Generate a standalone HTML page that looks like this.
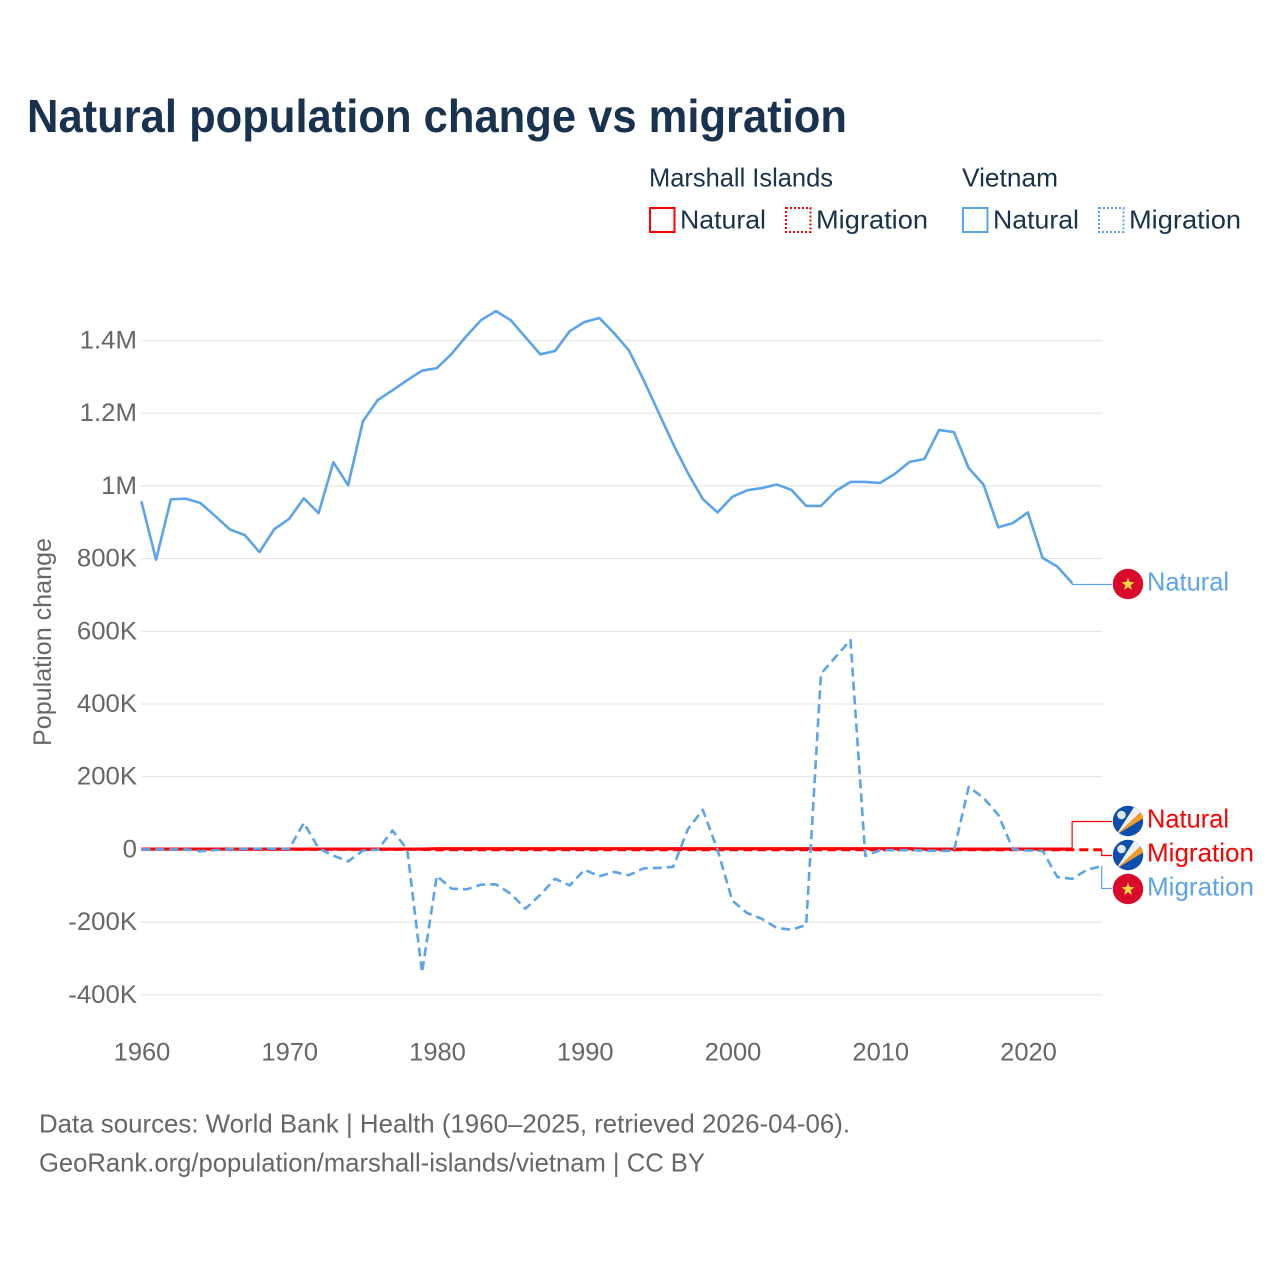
<!DOCTYPE html>
<html lang="en">
<head>
<meta charset="utf-8">
<title>Natural population change vs migration</title>
<style>
html,body{margin:0;padding:0;background:#fff;}
svg{display:block;font-family:"Liberation Sans",sans-serif;}
</style>
</head>
<body>
<svg id="chart" width="1280" height="1280" viewBox="0 0 1280 1280" xmlns="http://www.w3.org/2000/svg">
<defs>
<clipPath id="flag-clip-circle"><circle cx="15" cy="15" r="15.2"/></clipPath>
<g id="flag-vn"><circle cx="15" cy="15" r="15.2" fill="#da0a2c"/><polygon points="15,8.5 16.7,13 21.5,13.2 17.7,16.2 19,20.9 15,18.2 11,20.9 12.3,16.2 8.5,13.2 13.3,13" fill="#ffd83d"/></g>
<g id="flag-mh"><g clip-path="url(#flag-clip-circle)"><rect x="-1" y="-1" width="32" height="32" fill="#0b4fae"/><polygon points="3,29 31,3 31,12" fill="#f59a23"/><polygon points="3,29 31,3 23,-2" fill="#f0f0f0"/><circle cx="8.500" cy="9" r="4.300" fill="#dfe6f2"/></g></g>
</defs>
<rect width="1280" height="1280" fill="#fff"/>
<text x="27" y="132" font-size="46" font-weight="700" fill="#18324f" textLength="820" lengthAdjust="spacingAndGlyphs">Natural population change vs migration</text>
<g font-size="26" fill="#18324f">
<text x="649" y="186.500" textLength="184" lengthAdjust="spacingAndGlyphs">Marshall Islands</text>
<text x="962" y="186.500" textLength="96" lengthAdjust="spacingAndGlyphs">Vietnam</text>
<rect x="650" y="208" width="24.500" height="24" fill="none" stroke="#ff0000" stroke-width="2"/>
<text x="680" y="228.500" textLength="86" lengthAdjust="spacingAndGlyphs">Natural</text>
<rect x="786" y="208" width="24.500" height="24" fill="none" stroke="#ff0000" stroke-width="2" stroke-dasharray="2 2"/>
<text x="816" y="228.500" textLength="112" lengthAdjust="spacingAndGlyphs">Migration</text>
<rect x="963" y="208" width="24.500" height="24" fill="none" stroke="#5ba4ec" stroke-width="2"/>
<text x="993" y="228.500" textLength="86" lengthAdjust="spacingAndGlyphs">Natural</text>
<rect x="1099" y="208" width="24.500" height="24" fill="none" stroke="#5ba4ec" stroke-width="2" stroke-dasharray="2 2"/>
<text x="1129" y="228.500" textLength="112" lengthAdjust="spacingAndGlyphs">Migration</text>
</g>
<text transform="translate(51,746) rotate(-90)" font-size="25" fill="#666666" textLength="208" lengthAdjust="spacingAndGlyphs">Population change</text>
<g id="grid"></g>
<g id="y-ticks" font-size="25" fill="#666666" text-anchor="end"></g>
<g id="x-ticks" font-size="25" fill="#666666" text-anchor="middle"></g>
<g id="series" fill="none" stroke-linejoin="round"></g>
<g font-size="26">
<use href="#flag-vn" x="1113" y="569"/>
<text x="1147" y="590.500" fill="#5ba4ec" textLength="82" lengthAdjust="spacingAndGlyphs">Natural</text>
<use href="#flag-mh" x="1113" y="806"/>
<text x="1147" y="827.500" fill="#ff0000" textLength="82" lengthAdjust="spacingAndGlyphs">Natural</text>
<use href="#flag-mh" x="1113" y="840"/>
<text x="1147" y="861.500" fill="#ff0000" textLength="107" lengthAdjust="spacingAndGlyphs">Migration</text>
<use href="#flag-vn" x="1113" y="874"/>
<text x="1147" y="895.500" fill="#5ba4ec" textLength="107" lengthAdjust="spacingAndGlyphs">Migration</text>
</g>
<g font-size="26" fill="#666666">
<text x="39" y="1132.500" textLength="811" lengthAdjust="spacingAndGlyphs">Data sources: World Bank | Health (1960–2025, retrieved 2026-04-06).</text>
<text x="39" y="1171.500" textLength="666" lengthAdjust="spacingAndGlyphs">GeoRank.org/population/marshall-islands/vietnam | CC BY</text>
</g>
<script>
var startYear = 1960;
var yTickValues = [1400, 1200, 1000, 800, 600, 400, 200, 0, -200, -400];
var yTickLabels = ["1.4M", "1.2M", "1M", "800K", "600K", "400K", "200K", "0", "-200K", "-400K"];
var xTickYears = [1960, 1970, 1980, 1990, 2000, 2010, 2020];
var vietnamNatural = [958,797,963,965,953,917,880,865,818,881,909,966,925,1065,1002,1178,1236,1263,1291,1317,1324,1363,1412,1456,1481,1456,1409,1362,1371,1426,1451,1462,1420,1373,1291,1203,1115,1035,964,927,970,988,994,1004,989,945,945,986,1011,1011,1008,1033,1066,1074,1154,1148,1049,1004,886,898,927,802,778,733];
var vietnamMigration = [0,0,0,0,-5,-2,1,1,2,2,1,73,3,-17,-33,-3,-1,52,0,-339,-73,-108,-110,-97,-96,-122,-163,-125,-81,-99,-56,-74,-62,-71,-52,-51,-48,56,109,-1,-141,-175,-191,-216,-221,-208,483,530,576,-18,-2,-2,-2,-3,-4,-4,172,142,95,0,-3,-4,-76,-81,-56,-46];
var marshallNatural = [1,1,1,1,1,1,1,1,1,1,1,1,1,1,1,1,1,1,1,1,2,2,2,2,2,2,2,2,2,2,2,2,2,2,2,2,2,2,2,2,2,2,2,2,2,2,2,2,2,2,2,2,2,1,1,1,1,1,1,1,1,1,1,1];
var marshallMigration = [0,0,0,0,0,0,0,0,0,0,0,0,0,0,0,0,0,0,0,0,-1,-1,-1,-1,-1,-1,-1,-1,-1,-1,-1,-1,-1,-1,-1,-1,-1,-1,-1,-1,-1,-1,-1,-1,-1,-1,-1,-1,-1,-1,-1,-1,-1,-1,-1,-1,-1,-1,-1,-1,-1,-1,-1,-1,-1,-1];

function xScale(year) { return 141.3 + (year - 1960) * 14.775; }
function yScale(k) { return 849.4 - k * 0.3635; }
var NS = 'http://www.w3.org/2000/svg';
function make(tag, attrs, parent) {
  var el = document.createElementNS(NS, tag);
  for (var k in attrs) el.setAttribute(k, attrs[k]);
  parent.appendChild(el);
  return el;
}
var grid = document.getElementById('grid');
var yTicksGroup = document.getElementById('y-ticks');
var xTicksGroup = document.getElementById('x-ticks');
var seriesGroup = document.getElementById('series');

yTickValues.forEach(function (v, i) {
  var y = yScale(v);
  var line = make('line', {x1: 141, x2: 1102, y1: y, y2: y, stroke: '#e6e6e6', 'stroke-width': 1.2}, grid);
  
  
  var t = make('text', {x: 137, y: y + 8}, yTicksGroup);
  
  
  t.textContent = yTickLabels[i];
  t.setAttribute('textLength', (t.getComputedTextLength() * 1.03).toFixed(1));
  t.setAttribute('lengthAdjust', 'spacingAndGlyphs');
});
xTickYears.forEach(function (yr) {
  var t = make('text', {x: xScale(yr) + 0.7, y: 1060.5}, xTicksGroup);
  
  
  t.textContent = String(yr);
  t.setAttribute('textLength', (t.getComputedTextLength() * 1.02).toFixed(1));
  t.setAttribute('lengthAdjust', 'spacingAndGlyphs');
});

function pathFor(values) {
  return values.map(function (v, i) {
    return (i ? 'L' : 'M') + xScale(startYear + i).toFixed(2) + ' ' + yScale(v).toFixed(2);
  }).join(' ');
}
function drawSeries(values, color, dashed, width) {
  var attrs = {d: pathFor(values), stroke: color, 'stroke-width': width};
  if (dashed) attrs['stroke-dasharray'] = '9 5';
  return make('path', attrs, seriesGroup);
}
function drawConnector(values, labelY, color) {
  var lastX = xScale(startYear + values.length - 1);
  var lastY = yScale(values[values.length - 1]);
  return make('path', {d: 'M' + lastX.toFixed(2) + ' ' + lastY.toFixed(2) + ' L' + lastX.toFixed(2) + ' ' + labelY + ' L1112 ' + labelY, stroke: color, 'stroke-width': 1.2}, seriesGroup);
}

var c1 = drawConnector(vietnamNatural, 584.5, '#5ba4ec');


var c2 = drawConnector(marshallNatural, 821.5, '#ff0000');


var c3 = drawConnector(marshallMigration, 855.5, '#ff0000');


var c4 = drawConnector(vietnamMigration, 888.5, '#5ba4ec');



var s1 = drawSeries(marshallNatural, '#ff0000', false, 3.2);


var s2 = drawSeries(marshallMigration, '#ff0000', true, 3);


var s3 = drawSeries(vietnamNatural, '#5ba4ec', false, 2.6);


var s4 = drawSeries(vietnamMigration, '#5ba4ec', true, 2.6);


</script>
</svg>
</body>
</html>
